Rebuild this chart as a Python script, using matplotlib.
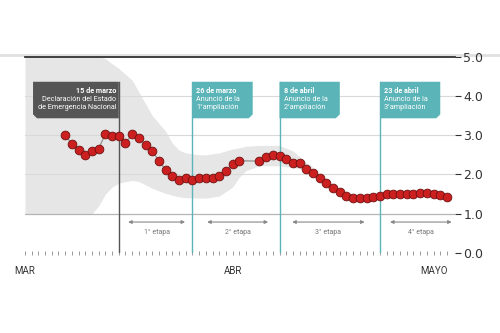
import matplotlib
matplotlib.use("Agg")
import matplotlib.pyplot as plt
import numpy as np
from matplotlib.patches import Polygon
from matplotlib.lines import Line2D

# días contados desde el 1 de marzo
dia = list(range(6, 64))
r_valor = [3.01, 2.77, 2.63, 2.49, 2.61, 2.66, 3.03, 2.97, 2.98, 2.80,
           3.02, 2.92, 2.76, 2.59, 2.35, 2.11, 1.95, 1.86, 1.90, 1.85,
           1.91, 1.91, 1.92, 1.97, 2.09, 2.27, 2.35, np.nan, np.nan, 2.34,
           2.44, 2.50, 2.46, 2.40, 2.28, 2.29, 2.13, 2.03, 1.92, 1.79,
           1.66, 1.56, 1.44, 1.41, 1.39, 1.41, 1.43, 1.46, 1.51, 1.51,
           1.50, 1.50, 1.51, 1.53, 1.52, 1.51, 1.49, 1.43]

# banda de incertidumbre
banda_dia = [0, 10, 11, 12, 13, 14, 16, 17, 19, 20, 21, 22, 23, 24, 26, 27,
             29, 31, 32, 33, 35, 38, 40, 41, 42, 43]
banda_sup = [5.0, 5.0, 5.0, 4.95, 4.82, 4.7, 4.4, 4.1, 3.5, 3.3, 3.1, 2.8,
             2.62, 2.55, 2.5, 2.5, 2.55, 2.65, 2.68, 2.72, 2.74, 2.74, 2.6,
             2.45, 2.3, 2.2]
banda_inf = [1.0, 1.0, 1.2, 1.5, 1.68, 1.78, 1.85, 1.82, 1.65, 1.58, 1.52,
             1.47, 1.43, 1.41, 1.40, 1.40, 1.45, 1.68, 1.93, 2.10, 2.22, 2.22,
             2.18, 2.15, 2.12, 2.2]

meses_dia = [0, 31, 61]
meses = ["MAR", "ABR", "MAYO"]

evento_dia = [14, 25, 38, 53]
evento_titulo = ["15 de marzo", "26 de marzo", "8 de abril", "23 de abril"]
evento_texto = ["Declaración del Estado\nde Emergencia Nacional",
                "Anunció de la\n1°ampliación",
                "Anuncio de la\n2°ampliación",
                "Anuncio de la\n3°ampliación"]

etapas = ["1° etapa", "2° etapa", "3° etapa", "4° etapa"]
etapa_ini = [15.4, 27.2, 39.9, 54.5]
etapa_fin = [23.9, 36.3, 50.7, 63.7]

GRIS_OSC = "#555555"
TEAL = "#5bb4b7"
FUENTE = ["Roboto", "DejaVu Sans"]

fig = plt.figure(figsize=(5, 3.33), dpi=100)
ax = fig.add_axes([0.05, 0.24, 0.86, 0.59])
ax.set_xlim(0, 64.2)
ax.set_ylim(0, 5)

# banda
ax.fill_between(banda_dia, banda_inf, banda_sup, color="#e6e6e6", lw=0, zorder=0)

# rejilla
for y in [2, 3, 4]:
    ax.axhline(y, color="#d9d9d9", lw=0.8, zorder=1)
ax.axhline(1, color="#b5b5b5", lw=0.9, zorder=1)

# línea de fondo superior a lo ancho
fig.add_artist(Line2D([0, 1], [0.834, 0.834], color="#e0e0e0", lw=2.0,
                      transform=fig.transFigure, zorder=0))

# líneas verticales y cuadros
top_caja = 4.36
bot_caja = 3.43
for i, d in enumerate(evento_dia):
    col = GRIS_OSC if i == 0 else TEAL
    ax.plot([d, d], [0, top_caja], color=col, lw=1.0, zorder=2)
    c = 0.6  # corte de esquina
    if i == 0:
        x0, x1 = 1.2, d
        pts = [(x0, top_caja), (x1, top_caja), (x1, bot_caja),
               (x0 + c, bot_caja), (x0, bot_caja + 0.1)]
        ax.add_patch(Polygon(pts, closed=True, color=col, lw=0, zorder=3))
        ax.text(x1 - 0.35, top_caja - 0.13, evento_titulo[i], ha="right", va="top",
                color="white", fontsize=5.2, fontweight="bold", family=FUENTE, zorder=4)
        ax.text(x1 - 0.35, top_caja - 0.36, evento_texto[i], ha="right", va="top",
                color="white", fontsize=5.2, linespacing=1.2, family=FUENTE, zorder=4)
    else:
        x0, x1 = d, d + 9.0
        pts = [(x0, top_caja), (x1, top_caja), (x1, bot_caja + 0.1),
               (x1 - c, bot_caja), (x0, bot_caja)]
        ax.add_patch(Polygon(pts, closed=True, color=col, lw=0, zorder=3))
        ax.text(x0 + 0.6, top_caja - 0.13, evento_titulo[i], ha="left", va="top",
                color="white", fontsize=5.2, fontweight="bold", family=FUENTE, zorder=4)
        ax.text(x0 + 0.6, top_caja - 0.36, evento_texto[i], ha="left", va="top",
                color="white", fontsize=5.2, linespacing=1.2, family=FUENTE, zorder=4)

# etapas
for nom, a, b in zip(etapas, etapa_ini, etapa_fin):
    ax.annotate("", xy=(a, 0.79), xytext=(b, 0.79),
                arrowprops=dict(arrowstyle="<|-|>", color="#888888", lw=0.8,
                                mutation_scale=5, shrinkA=0, shrinkB=0), zorder=2)
    ax.text((a + b) / 2, 0.53, nom, ha="center", va="center", fontsize=5,
            color="#777777", family=FUENTE)

# serie
dd = np.array(dia)
vv = np.array(r_valor)
ok = ~np.isnan(vv)
ax.plot(dd[ok], vv[ok], color="#999999", lw=1.0, zorder=5)
ax.plot(dd, vv, "o", color="#cc2020", mec="#6e1010", mew=0.6, ms=6.3, zorder=6)

# ejes
for s in ["left", "right", "bottom"]:
    ax.spines[s].set_visible(False)
ax.spines["top"].set_color("#333333")
ax.spines["top"].set_linewidth(1.3)

ax.yaxis.tick_right()
ax.set_yticks([0, 1, 2, 3, 4, 5])
ax.set_yticklabels(["0.0", "1.0", "2.0", "3.0", "4.0", "5.0"])
ax.tick_params(axis="y", length=4, color="#333333", labelsize=9,
               labelcolor="#333333", pad=2)

ax.set_xticks(meses_dia)
ax.set_xticklabels(meses, family=FUENTE)
ax.set_xticks(np.arange(0, 64), minor=True)
ax.tick_params(axis="x", which="both", length=3, color="#999999",
               direction="inout", width=0.7)
ax.tick_params(axis="x", which="major", labelsize=7, labelcolor="#333333", pad=8)

fig.savefig("out.png", dpi=100)
